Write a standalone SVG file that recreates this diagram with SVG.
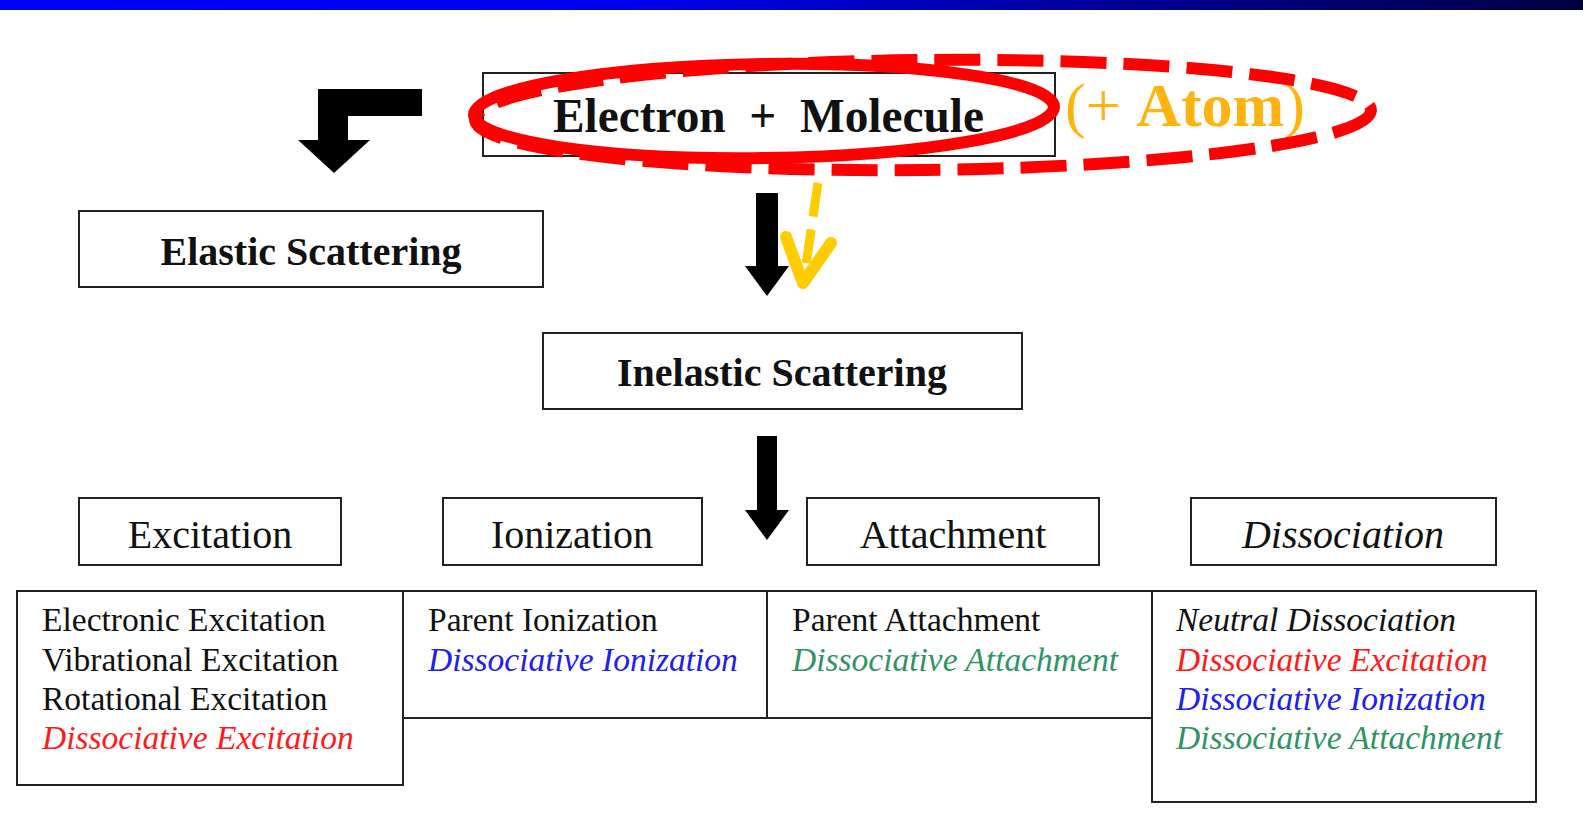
<svg xmlns="http://www.w3.org/2000/svg" width="1583" height="827" viewBox="0 0 1583 827">
<defs>
<linearGradient id="bar" x1="0" y1="0" x2="1" y2="0">
<stop offset="0" stop-color="#0000ff"/>
<stop offset="0.4" stop-color="#0000f0"/>
<stop offset="1" stop-color="#000040"/>
</linearGradient>
</defs>
<style>
.box{fill:#fff;stroke:#222;stroke-width:2}
.t{font-family:"Liberation Serif","Times New Roman",serif;fill:#111}
.b{font-weight:bold}
.h{font-size:40px;text-anchor:middle}
.s{font-size:33.5px}
.i{font-style:italic}
.red{fill:#ff1a1a}
.blue{fill:#2020ee}
.green{fill:#2e9462}
</style>
<rect x="0" y="0" width="1583" height="10" fill="url(#bar)"/>

<g id="electron-molecule">
<rect class="box" x="483" y="73" width="572" height="83"/>
<text class="t b" x="553" y="132" font-size="48" textLength="431" lengthAdjust="spacingAndGlyphs" xml:space="preserve">Electron  +  Molecule</text>
</g>
<g id="atom-label">
<text class="t" x="1065" y="126" font-size="62" style="fill:#ffb30f">(+ <tspan font-weight="bold">Atom</tspan>)</text>
</g>
<g id="highlight-ellipses" fill="none" stroke="#ff0000">
<ellipse cx="764" cy="111" rx="290" ry="47" stroke-width="12" transform="rotate(-0.8 764 111)"/>
<ellipse cx="923" cy="115" rx="448" ry="55" stroke-width="12" stroke-dasharray="46 17" transform="rotate(-0.6 923 115)"/>
</g>

<g id="elastic">
<rect class="box" x="79" y="211" width="464" height="76"/>
<text class="t b h" x="311" y="265">Elastic Scattering</text>
</g>
<g id="inelastic">
<rect class="box" x="543" y="333" width="479" height="76"/>
<text class="t b h" x="782" y="386">Inelastic Scattering</text>
</g>

<g id="excitation">
<rect class="box" x="79" y="498" width="262" height="67"/>
<text class="t h" x="210" y="548">Excitation</text>
</g>
<g id="ionization">
<rect class="box" x="443" y="498" width="259" height="67"/>
<text class="t h" x="572" y="548">Ionization</text>
</g>
<g id="attachment">
<rect class="box" x="807" y="498" width="292" height="67"/>
<text class="t h" x="953" y="548">Attachment</text>
</g>
<g id="dissociation">
<rect class="box" x="1191" y="498" width="305" height="67"/>
<text class="t h i" x="1343" y="548">Dissociation</text>
</g>

<g id="excitation-list">
<rect class="box" x="17" y="591" width="386" height="194"/>
<text class="t s" x="42" y="631">Electronic Excitation</text>
<text class="t s" x="42" y="671">Vibrational Excitation</text>
<text class="t s" x="42" y="710">Rotational Excitation</text>
<text class="t s i red" x="42" y="749">Dissociative Excitation</text>
</g>
<g id="ionization-list">
<rect class="box" x="403" y="591" width="364" height="127"/>
<text class="t s" x="428" y="631">Parent Ionization</text>
<text class="t s i blue" x="428" y="671">Dissociative Ionization</text>
</g>
<g id="attachment-list">
<rect class="box" x="767" y="591" width="385" height="127"/>
<text class="t s" x="792" y="631">Parent Attachment</text>
<text class="t s i green" x="792" y="671">Dissociative Attachment</text>
</g>
<g id="dissociation-list">
<rect class="box" x="1152" y="591" width="384" height="211"/>
<text class="t s i" x="1176" y="631">Neutral Dissociation</text>
<text class="t s i red" x="1176" y="671">Dissociative Excitation</text>
<text class="t s i blue" x="1176" y="710">Dissociative Ionization</text>
<text class="t s i green" x="1176" y="749">Dissociative Attachment</text>
</g>

<g id="connectors">
<polygon fill="#000" points="318,89 422,89 422,116 348,116 348,140 370,140 334,173 298,140 318,140"/>
<polygon fill="#000" points="756,193 778,193 778,266 789,266 767,296 745,266 756,266"/>
<polygon fill="#000" points="757,436 777,436 777,510 789,510 767,540 745,510 757,510"/>
<line x1="818" y1="183" x2="804" y2="278" stroke="#ffcc00" stroke-width="9" stroke-dasharray="34 13"/>
<polyline points="786,237 803,283 831,243" fill="none" stroke="#ffcc00" stroke-width="12" stroke-linecap="round" stroke-linejoin="round"/>
</g>
</svg>
